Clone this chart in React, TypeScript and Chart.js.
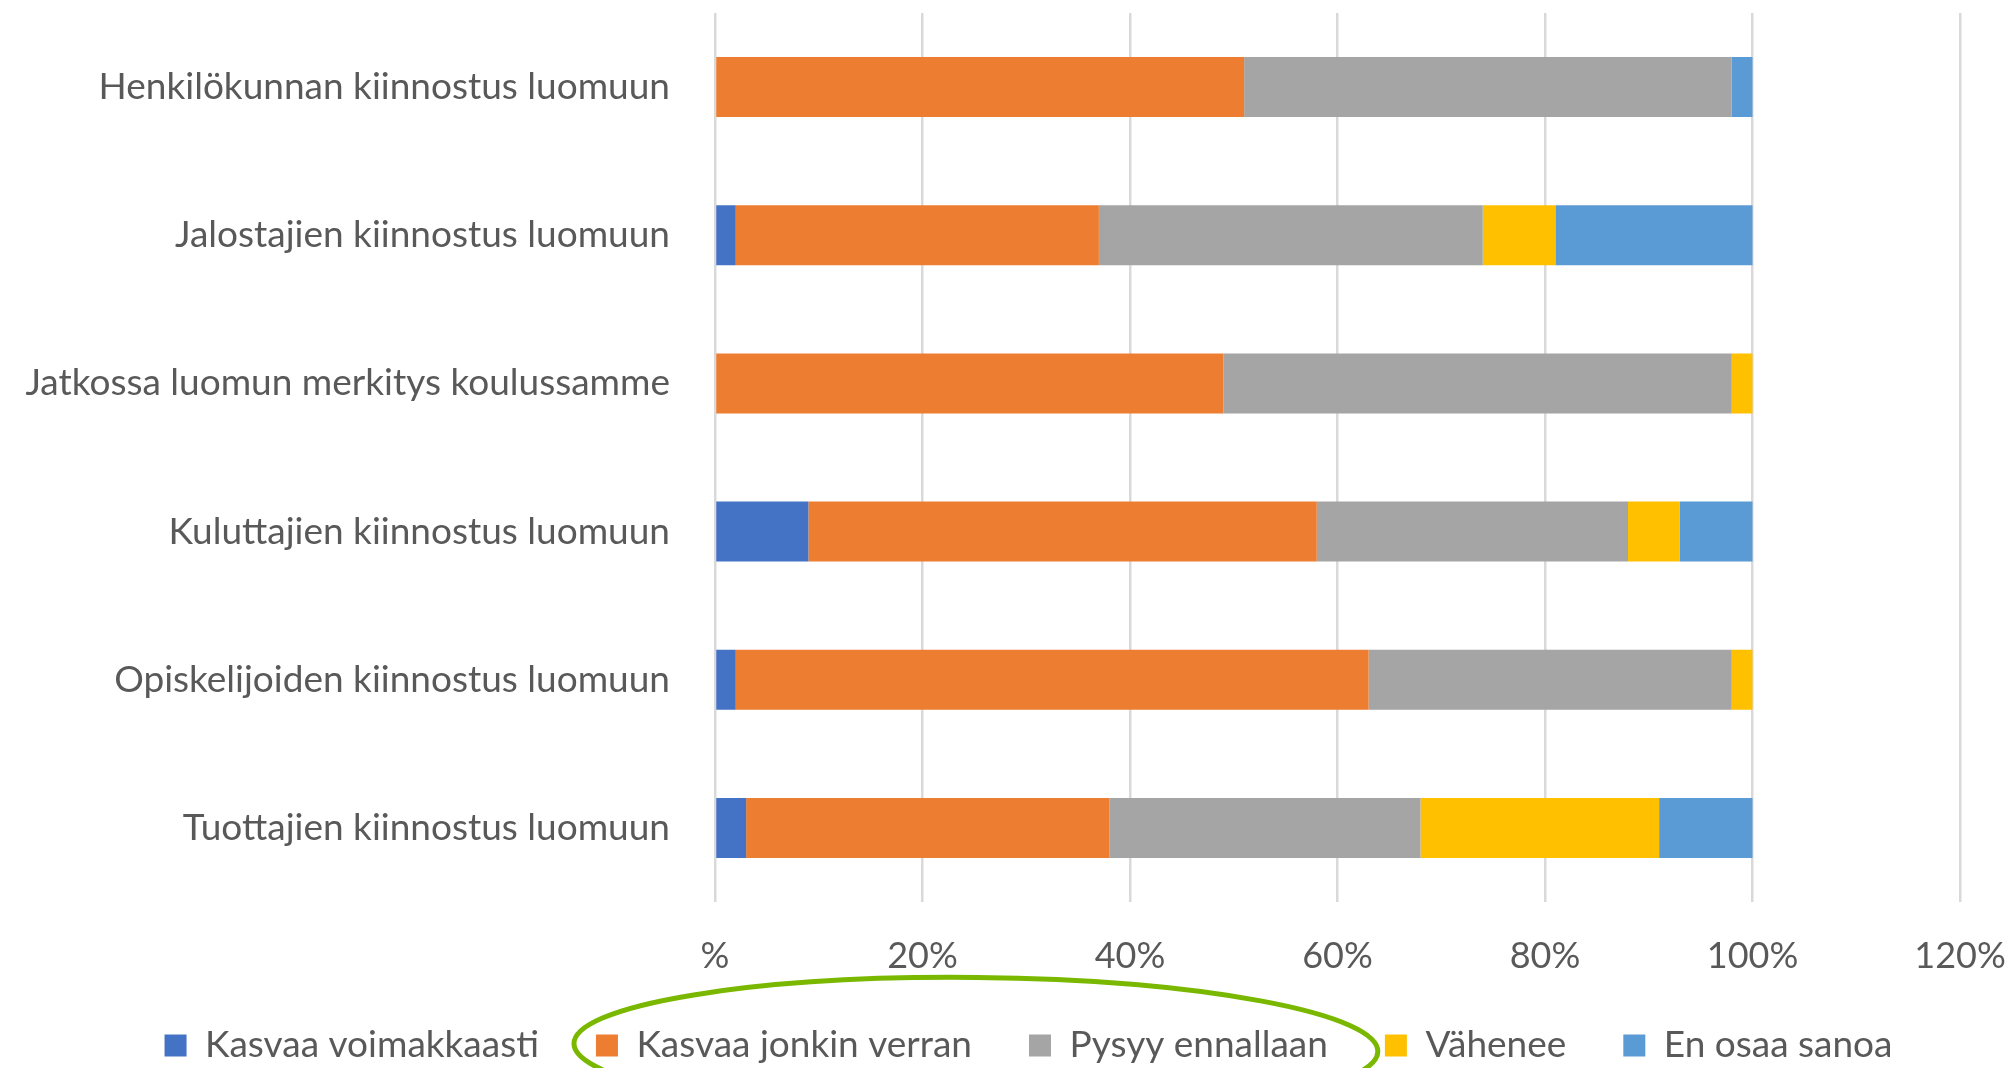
import React, { useEffect, useRef } from "react";
import { Chart, registerables } from "chart.js";

Chart.register(...registerables);

const categories = [
  "Henkilökunnan kiinnostus luomuun",
  "Jalostajien kiinnostus luomuun",
  "Jatkossa luomun merkitys koulussamme",
  "Kuluttajien kiinnostus luomuun",
  "Opiskelijoiden kiinnostus luomuun",
  "Tuottajien kiinnostus luomuun",
];

const seriesNames = [
  "Kasvaa voimakkaasti",
  "Kasvaa jonkin verran",
  "Pysyy ennallaan",
  "Vähenee",
  "En osaa sanoa",
];

const kasvaaVoimakkaasti = [0, 2, 0, 9, 2, 3];
const kasvaaJonkinVerran = [51, 35, 49, 49, 61, 35];
const pysyyEnnallaan = [47, 37, 49, 30, 35, 30];
const vahenee = [0, 7, 2, 5, 2, 23];
const enOsaaSanoa = [2, 19, 0, 7, 0, 9];

const seriesValues = [kasvaaVoimakkaasti, kasvaaJonkinVerran, pysyyEnnallaan, vahenee, enOsaaSanoa];
const seriesColors = ["#4472C4", "#ED7D31", "#A5A5A5", "#FFC000", "#5B9BD5"];

const xTicks = [0, 20, 40, 60, 80, 100, 120];
const xTickLabels = ["%", "20%", "40%", "60%", "80%", "100%", "120%"];

const FONT = "Lato, 'Noto Sans', sans-serif";
const TEXT_COLOR = "#595959";

const ellipsePlugin = {
  id: "legendEllipse",
  afterDraw(chart: any) {
    const legend = chart.legend;
    if (!legend || !legend.legendHitBoxes || legend.legendHitBoxes.length < 3) return;
    const a = legend.legendHitBoxes[1];
    const b = legend.legendHitBoxes[2];
    const left = a.left - 22;
    const right = b.left + b.width + 50;
    const cy = a.top + a.height / 2 + 2;
    const ctx = chart.ctx;
    ctx.save();
    ctx.beginPath();
    ctx.ellipse((left + right) / 2, cy, (right - left) / 2, 70, 0.01, 0, Math.PI * 2);
    ctx.strokeStyle = "#7AB800";
    ctx.lineWidth = 5;
    ctx.stroke();
    ctx.restore();
  },
};

export default function App() {
  const canvasRef = useRef<HTMLCanvasElement | null>(null);

  useEffect(() => {
    if (!canvasRef.current) return;
    const chart = new Chart(canvasRef.current, {
      type: "bar",
      data: {
        labels: categories,
        datasets: seriesNames.map((name, i) => ({
          label: name,
          data: seriesValues[i],
          backgroundColor: seriesColors[i],
          borderWidth: 0,
          barPercentage: 0.405,
          categoryPercentage: 1,
        })),
      },
      options: {
        indexAxis: "y",
        responsive: false,
        animation: false,
        layout: { padding: { top: 13, left: 13, right: -31, bottom: -6 } },
        plugins: {
          legend: {
            position: "bottom",
            labels: {
              font: { family: FONT, size: 37 },
              color: TEXT_COLOR,
              boxWidth: 22,
              boxHeight: 22,
              padding: 57,
            },
          },
          tooltip: { enabled: false },
        },
        scales: {
          x: {
            stacked: true,
            min: 0,
            max: 120,
            afterBuildTicks(scale: any) {
              scale.ticks = xTicks.map((v) => ({ value: v }));
            },
            afterFit(scale: any) {
              scale.height = 68;
              scale.paddingLeft = 0;
              scale.paddingRight = 53;
            },
            ticks: {
              font: { family: FONT, size: 36 },
              color: TEXT_COLOR,
              padding: 33,
              maxRotation: 0,
              callback: (v: any) => xTickLabels[xTicks.indexOf(Number(v))] ?? "",
            },
            grid: { color: "#D9D9D9", lineWidth: 2.5, drawTicks: false },
            border: { display: false },
          },
          y: {
            stacked: true,
            afterFit(scale: any) {
              scale.width = 702;
              scale.paddingTop = 0;
              scale.paddingBottom = 0;
            },
            ticks: {
              font: { family: FONT, size: 37 },
              color: TEXT_COLOR,
              padding: 45,
            },
            grid: { display: false, drawTicks: false },
            border: { display: false },
          },
        },
      },
      plugins: [ellipsePlugin],
    } as any);
    return () => chart.destroy();
  }, []);

  return (
    <div style={{ position: "absolute", left: 0, top: 0, width: 2013, height: 1068, background: "#fff" }}>
      <canvas ref={canvasRef} width={2013} height={1068} />
    </div>
  );
}
